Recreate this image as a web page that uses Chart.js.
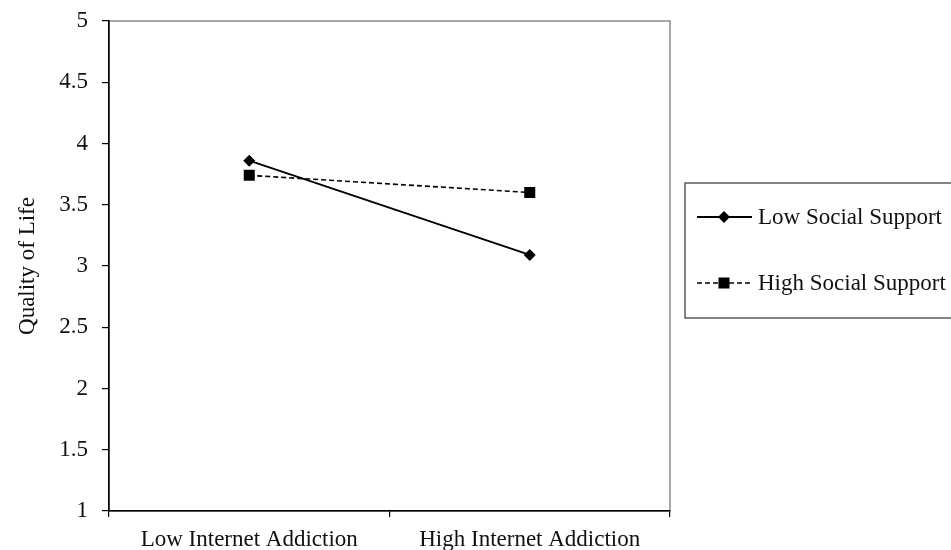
<!DOCTYPE html>
<html>
<head>
<meta charset="utf-8">
<script src="https://cdn.jsdelivr.net/npm/chart.js@4/dist/chart.umd.min.js"></script>
<style>
  html, body { margin: 0; padding: 0; background: #fff; }
  #wrap { width: 951px; height: 550px; position: relative; }
</style>
</head>
<body>
<div id="wrap"><canvas id="qol"></canvas></div>
<script>
"use strict";
var categories = ["Low Internet Addiction", "High Internet Addiction"];
var seriesNames = ["Low Social Support", "High Social Support"];
var lowSupport = [3.86, 3.09];
var highSupport = [3.74, 3.6];
var yTitle = "Quality of Life";

var serif = "'Liberation Serif', 'Times New Roman', serif";

// grey frame round the plot, axes draw over it
var frame = {
  id: "frame",
  beforeDraw: function (c) {
    var a = c.chartArea, x = c.ctx;
    x.save();
    x.strokeStyle = "#8a8a8a";
    x.lineWidth = 1.5;
    x.strokeRect(a.left, a.top, a.right - a.left, a.bottom - a.top);
    x.restore();
  }
};

// boxed legend: line sample with marker in the middle
var boxLegend = {
  id: "boxLegend",
  afterDraw: function (c) {
    var a = c.chartArea, x = c.ctx;
    var bx = a.right + 15, by = 183, bh = 135;
    x.save();
    x.strokeStyle = "#333";
    x.lineWidth = 1.2;
    x.strokeRect(bx, by, 400, bh);
    c.data.datasets.forEach(function (d, i) {
      var y = by + 34 + i * 66;
      x.strokeStyle = d.borderColor;
      x.lineWidth = d.borderWidth;
      x.setLineDash(d.borderDash || []);
      x.beginPath();
      x.moveTo(bx + 12, y);
      x.lineTo(bx + 67, y);
      x.stroke();
      x.setLineDash([]);
      x.fillStyle = d.pointBackgroundColor;
      Chart.helpers.drawPoint(x, { pointStyle: d.pointStyle, radius: d.pointRadius, rotation: 0, borderWidth: 0 }, bx + 39, y);
      x.fillStyle = "#111";
      x.font = "23px " + serif;
      x.textBaseline = "middle";
      x.fillText(d.label, bx + 73, y + 1);
    });
    x.restore();
  }
};

new Chart(document.getElementById("qol"), {
  type: "line",
  data: {
    labels: categories,
    datasets: [
      {
        label: seriesNames[0],
        data: lowSupport,
        borderColor: "#000",
        borderWidth: 1.8,
        pointStyle: "rectRot",
        pointRadius: 6,
        pointBackgroundColor: "#000",
        pointBorderWidth: 0,
        tension: 0
      },
      {
        label: seriesNames[1],
        data: highSupport,
        borderColor: "#000",
        borderWidth: 1.6,
        borderDash: [5, 3],
        pointStyle: "rect",
        pointRadius: 7.8,
        pointBackgroundColor: "#000",
        pointBorderWidth: 0,
        tension: 0
      }
    ]
  },
  options: {
    responsive: true,
    maintainAspectRatio: false,
    animation: false,
    layout: { padding: { left: 0, top: 21, right: 281, bottom: 0 } },
    plugins: { legend: { display: false }, tooltip: { enabled: false } },
    scales: {
      x: {
        offset: true,
        afterFit: function (s) { s.height = 39; s.paddingLeft = 0; s.paddingRight = 0; },
        grid: { drawOnChartArea: false, offset: true, tickLength: 6, color: "#000", lineWidth: 1.2 },
        border: { color: "#000", width: 1.6 },
        ticks: { color: "#111", font: { family: serif, size: 23 }, padding: 9, maxRotation: 0, autoSkip: false }
      },
      y: {
        min: 1,
        max: 5,
        afterFit: function (s) { s.width = 109; s.paddingTop = 0; s.paddingBottom = 0; },
        grid: { drawOnChartArea: false, tickLength: 7, color: "#000", lineWidth: 1.2 },
        border: { color: "#000", width: 1.6 },
        ticks: {
          stepSize: 0.5, color: "#111", font: { family: serif, size: 23 }, padding: 14,
          callback: function (v) { return String(Math.round(v * 10) / 10); }
        },
        title: { display: true, text: yTitle, color: "#111", font: { family: serif, size: 23 }, padding: { top: 14, bottom: 0 } }
      }
    }
  },
  plugins: [frame, boxLegend]
});
</script>
</body>
</html>
